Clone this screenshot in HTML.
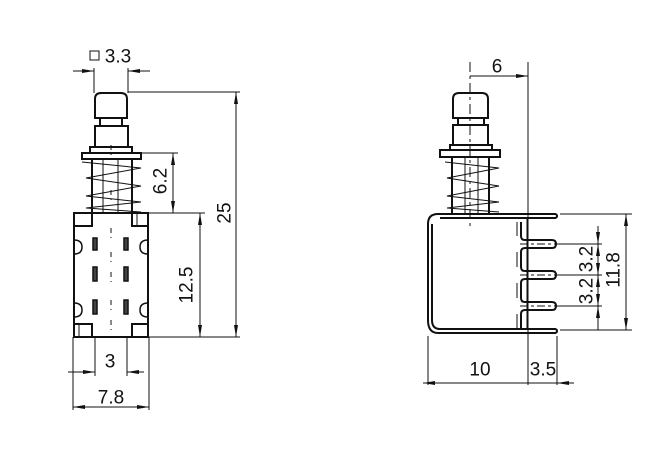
<!DOCTYPE html>
<html><head><meta charset="utf-8"><style>
html,body{margin:0;padding:0;background:#fff;}
svg{display:block}
text{font-family:"Liberation Sans",sans-serif;font-size:19px;fill:#111;text-anchor:middle;dominant-baseline:central}
</style></head><body>
<svg width="654" height="470" viewBox="0 0 654 470" xmlns="http://www.w3.org/2000/svg">
<defs>
<marker id="a" viewBox="0 0 12 4" refX="12" refY="2" markerWidth="12" markerHeight="4" orient="auto-start-reverse" markerUnits="userSpaceOnUse"><path d="M0,0L12,2L0,4z" fill="#111"/></marker>
</defs>
<g fill="none" stroke="#111">
<!-- LEFT VIEW -->
<g stroke-width="2">
<path d="M95,118V99Q95,93 101,93H121Q127,93 127,99V118Z"/>
<rect x="100" y="118" width="22" height="8"/>
<rect x="95" y="126" width="33" height="21"/>
<rect x="90" y="147" width="42" height="6"/>
<rect x="82" y="153" width="59" height="6"/>
<path d="M92,159V213M132,159V213"/>
<rect x="74" y="213" width="74" height="124"/>
<path d="M74,226H92V213M132,213V226H148M74,324H92V337M132,337V324H148"/>
</g>
<g stroke-width="1">
<path d="M103,159V213M118,159V213M82,162L141,168L86,178L141,186L86,196L141,202L86,208L141,212"/>
<path d="M137,213V226M79,324V337"/>
<path d="M111,145V155M111,190V200M111,228V238M111,252V262M111,272V282M111,300V310M111,320V330" stroke-dasharray="5 4"/>
</g>
<g stroke-width="1.5">
<path d="M74,240Q82,240 82,247Q82,254 74,254M148,240Q140,240 140,247Q140,254 148,254M74,303Q82,303 82,310Q82,317 74,317M148,303Q140,303 140,310Q140,317 148,317"/>
<rect x="93" y="238" width="4" height="12" fill="#444"/><rect x="124" y="238" width="4" height="12" fill="#444"/>
<rect x="93" y="267" width="4" height="14" fill="#444"/><rect x="124" y="267" width="4" height="14" fill="#444"/>
<rect x="93" y="300" width="4" height="14" fill="#444"/><rect x="124" y="300" width="4" height="14" fill="#444"/>
</g>
<g stroke-width="1">
<path d="M94,68V93M128,68V93"/>
<path d="M73,71H94" marker-end="url(#a)"/><path d="M150,71H128" marker-end="url(#a)"/>
<path d="M128,92H240M141,153H178M148,213H205M148,337H240"/>
<path d="M236,92V337" marker-start="url(#a)" marker-end="url(#a)"/>
<path d="M173,153V213" marker-start="url(#a)" marker-end="url(#a)"/>
<path d="M200,213V337" marker-start="url(#a)" marker-end="url(#a)"/>
<path d="M73,337V410M95,337V376M127,337V376M149,337V410"/>
<path d="M68,372H95" marker-end="url(#a)"/><path d="M144,372H127" marker-end="url(#a)"/>
<path d="M73,407H149" marker-start="url(#a)" marker-end="url(#a)"/>
<rect x="90" y="51" width="9" height="9" stroke-width="1"/>
</g>
<!-- RIGHT VIEW -->
<g stroke-width="2">
<path d="M453,118V99Q453,93 459,93H482Q488,93 488,99V118Z"/>
<rect x="458" y="118" width="26" height="7"/>
<rect x="453" y="125" width="35" height="20"/>
<rect x="450" y="145" width="42" height="5"/>
<rect x="440" y="150" width="60" height="7"/>
<path d="M452,157V213M489,157V213"/>
<path d="M556,214H438Q428,214 428,224V320Q428,333 438,333H556"/>
<path d="M432,224V320Q432,329 440,329H556M440,218H556"/>
<path d="M556,214Q558,216 556,218M556,329Q558,331 556,333"/>
<path d="M521,222V236Q521,240 525,240H552Q556,240 556,244Q556,248 552,248H525Q521,248 521,252V267Q521,271 525,271H552Q556,271 556,275Q556,279 552,279H525Q521,279 521,283V298Q521,302 525,302H552Q556,302 556,306Q556,310 552,310H525Q521,310 521,314V329"/>
</g>
<g stroke-width="1">
<path d="M465,157V213M478,157V213M445,162L499,168L447,178L499,186L447,196L499,202L447,208L499,212"/>
<path d="M527,218V329M517,222V236M517,252V267M517,283V298M517,314V329"/>
<path d="M470,62V230" stroke-dasharray="10 4 3 4"/>
<path d="M520,244H560M520,275H560M520,306H560" stroke-dasharray="8 3 3 3"/>
<path d="M528,62V385M428,336V385M557,336V385"/>
<path d="M470,76H528" marker-end="url(#a)"/>
<path d="M423,383H528" marker-start="url(#a)"/>
<path d="M528,383H557"/><path d="M574,383H557" marker-end="url(#a)"/>
<path d="M560,214H632M560,330H632M560,244H602M560,275H602M560,306H602"/>
<path d="M626,214V330" marker-start="url(#a)" marker-end="url(#a)"/>
<path d="M598,226V244" marker-end="url(#a)"/>
<path d="M598,244V275" marker-start="url(#a)" marker-end="url(#a)"/>
<path d="M598,275V306" marker-start="url(#a)" marker-end="url(#a)"/>
<path d="M598,330V306" marker-end="url(#a)"/>
</g>
</g>
<text x="118" y="57">3.3</text>
<text x="161" y="181" transform="rotate(-90 161 181)">6.2</text>
<text x="225" y="213" transform="rotate(-90 225 213)">25</text>
<text x="187" y="285" transform="rotate(-90 187 285)">12.5</text>
<text x="110" y="362">3</text>
<text x="111" y="398">7.8</text>
<text x="497" y="67">6</text>
<text x="480" y="370">10</text>
<text x="543" y="370">3.5</text>
<text x="587" y="259" transform="rotate(-90 587 259)">3.2</text>
<text x="587" y="291" transform="rotate(-90 587 291)">3.2</text>
<text x="614" y="270" transform="rotate(-90 614 270)">11.8</text>
</svg>
</body></html>
